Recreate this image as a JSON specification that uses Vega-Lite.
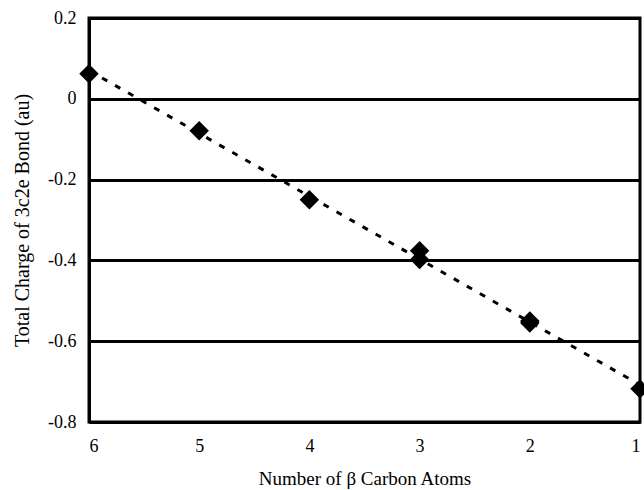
{
  "$schema": "https://vega.github.io/schema/vega-lite/v6.json",
  "autosize": "none",
  "width": 551,
  "height": 404,
  "padding": {"left": 89, "top": 18, "right": 4, "bottom": 68},
  "background": "white",
  "config": {
    "view": {"stroke": "black", "strokeWidth": 3},
    "font": "Liberation Serif",
    "axis": {
      "labelFont": "Liberation Serif",
      "titleFont": "Liberation Serif",
      "labelColor": "black",
      "titleColor": "black",
      "labelFontSize": 18,
      "titleFontSize": 19,
      "titleFontWeight": "normal",
      "ticks": false,
      "domainColor": "black",
      "domainWidth": 3
    }
  },
  "data": {
    "values": [
      {"atoms": 6, "charge": 0.062},
      {"atoms": 5, "charge": -0.079},
      {"atoms": 4, "charge": -0.25},
      {"atoms": 3, "charge": -0.376},
      {"atoms": 3, "charge": -0.398},
      {"atoms": 2, "charge": -0.55},
      {"atoms": 2, "charge": -0.555},
      {"atoms": 1, "charge": -0.718}
    ]
  },
  "layer": [
    {
      "transform": [{"regression": "charge", "on": "atoms", "extent": [1, 6]}],
      "mark": {"type": "line", "color": "black", "strokeWidth": 3, "strokeDash": [6, 9], "clip": true},
      "encoding": {
        "x": {"field": "atoms", "type": "quantitative"},
        "y": {"field": "charge", "type": "quantitative"}
      }
    },
    {
      "mark": {"type": "point", "shape": "diamond", "filled": true, "color": "black", "opacity": 1, "size": 380},
      "encoding": {
        "x": {
          "field": "atoms", "type": "quantitative",
          "scale": {"domain": [6, 1], "nice": false, "zero": false},
          "axis": {
            "title": "Number of β Carbon Atoms",
            "values": [6, 5, 4, 3, 2, 1],
            "format": "d",
            "grid": false,
            "domain": true,
            "labelPadding": 15,
            "titlePadding": 14
          }
        },
        "y": {
          "field": "charge", "type": "quantitative",
          "scale": {"domain": [-0.8, 0.2], "nice": false, "zero": false},
          "axis": {
            "title": "Total Charge of 3c2e Bond (au)",
            "titleFontSize": 20,
            "values": [-0.8, -0.6, -0.4, -0.2, 0, 0.2],
            "labelExpr": "replace(format(datum.value, '.1~f'), '−', '-')",
            "grid": true,
            "gridColor": "black",
            "gridWidth": 3,
            "gridOpacity": 1,
            "labelPadding": 13,
            "titlePadding": 15
          }
        }
      }
    }
  ]
}
